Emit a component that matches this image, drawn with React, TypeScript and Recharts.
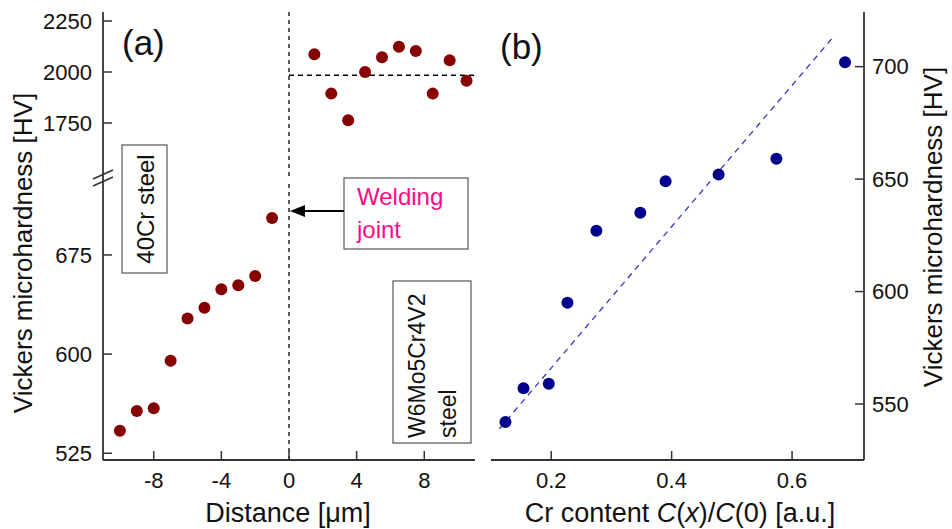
import React from "react";
import {
  ScatterChart,
  Scatter,
  XAxis,
  YAxis,
  ReferenceLine,
} from "recharts";

// panel (a): hardness across the weld
const distanceSteel = [-10, -9, -8, -7, -6, -5, -4, -3, -2, -1];
const hardnessSteel = [542, 557, 559, 595, 627, 635, 649, 652, 659, 703];
const distanceTool = [1.5, 2.5, 3.5, 4.5, 5.5, 6.5, 7.5, 8.5, 9.5, 10.5];
const hardnessTool = [2087, 1894, 1763, 2000, 2072, 2124, 2103, 1894, 2057, 1957];
const toolMean = 1984;

// panel (b): hardness vs Cr content
const crContent = [0.124, 0.154, 0.196, 0.227, 0.275, 0.348, 0.39, 0.478, 0.574, 0.688];
const crHardness = [542, 557, 559, 595, 627, 635, 649, 652, 659, 702];
const fitX = [0.114, 0.671];
const fitY = [539, 714];

const distanceTicks = [-8, -4, 0, 4, 8];
const upperTicks = [1750, 2000, 2250];
const lowerTicks = [525, 600, 675];
const crTicks = [0.2, 0.4, 0.6];
const crHardTicks = [550, 600, 650, 700];

const W = 952;
const H = 529;
const FONT = "'Liberation Sans', Arial, sans-serif";
const AXIS = "#333";
const TEXT = "#111";

const steelData = distanceSteel.map((x, i) => ({ x, y: hardnessSteel[i] }));
const toolData = distanceTool.map((x, i) => ({ x, y: hardnessTool[i] }));
const crData = crContent.map((x, i) => ({ x, y: crHardness[i] }));

const tickStyle = { fill: TEXT, fontSize: 22, fontFamily: FONT };
const axisLine = { stroke: AXIS, strokeWidth: 1.8 };
const tickLine = { stroke: AXIS, strokeWidth: 1.5 };

const abs: React.CSSProperties = { position: "absolute", left: 0, top: 0 };

const dot = (color: string) => (props: any) =>
  <circle cx={props.cx} cy={props.cy} r={6} fill={color} />;

export default function App() {
  return (
    <div
      style={{
        position: "absolute",
        left: 0,
        top: 0,
        width: W,
        height: H,
        background: "#fff",
        fontFamily: FONT,
      }}
    >
      {/* (a) upper part, above the break */}
      <ScatterChart
        width={W}
        height={H}
        style={abs}
        margin={{ top: 12, left: 0, right: 477, bottom: 349 }}
      >
        <XAxis
          type="number"
          dataKey="x"
          orientation="top"
          domain={[-11, 11]}
          allowDataOverflow
          height={0}
          tick={false}
          tickLine={false}
          axisLine={axisLine}
        />
        <YAxis
          type="number"
          dataKey="y"
          domain={[1470.6, 2294.1]}
          allowDataOverflow
          ticks={upperTicks}
          width={103}
          tick={tickStyle}
          tickSize={-9}
          tickMargin={20}
          tickLine={tickLine}
          axisLine={axisLine}
        />
        <YAxis
          yAxisId="border"
          orientation="right"
          type="number"
          domain={[0, 1]}
          width={0}
          tick={false}
          tickLine={false}
          axisLine={axisLine}
        />
        <ReferenceLine x={0} stroke="#000" strokeWidth={1.3} strokeDasharray="4 4" />
        <ReferenceLine
          segment={[
            { x: 0, y: toolMean },
            { x: 11, y: toolMean },
          ]}
          stroke="#000"
          strokeWidth={1.3}
          strokeDasharray="5 4"
        />
        <Scatter data={toolData} shape={dot("#860000")} isAnimationActive={false} />
      </ScatterChart>

      {/* (a) lower part, below the break */}
      <ScatterChart
        width={W}
        height={H}
        style={abs}
        margin={{ top: 180, left: 0, right: 477, bottom: 0 }}
      >
        <XAxis
          type="number"
          dataKey="x"
          domain={[-11, 11]}
          allowDataOverflow
          ticks={distanceTicks}
          height={69}
          tick={tickStyle}
          tickSize={-9}
          tickMargin={21}
          tickLine={tickLine}
          axisLine={axisLine}
        />
        <YAxis
          type="number"
          dataKey="y"
          domain={[519.9, 731.7]}
          allowDataOverflow
          ticks={lowerTicks}
          width={103}
          tick={tickStyle}
          tickSize={-9}
          tickMargin={20}
          tickLine={tickLine}
          axisLine={axisLine}
        />
        <YAxis
          yAxisId="border"
          orientation="right"
          type="number"
          domain={[0, 1]}
          width={0}
          tick={false}
          tickLine={false}
          axisLine={axisLine}
        />
        <ReferenceLine x={0} stroke="#000" strokeWidth={1.3} strokeDasharray="4 4" />
        <Scatter data={steelData} shape={dot("#860000")} isAnimationActive={false} />
      </ScatterChart>

      {/* (b) */}
      <ScatterChart
        width={W}
        height={H}
        style={abs}
        margin={{ top: 12, left: 491, right: 0, bottom: 0 }}
      >
        <XAxis
          type="number"
          dataKey="x"
          domain={[0.1, 0.7195]}
          allowDataOverflow
          ticks={crTicks}
          tickFormatter={(v: number) => v.toFixed(1)}
          height={69}
          tick={tickStyle}
          tickSize={-9}
          tickMargin={21}
          tickLine={tickLine}
          axisLine={axisLine}
        />
        <XAxis
          xAxisId="border"
          orientation="top"
          type="number"
          domain={[0, 1]}
          height={0}
          tick={false}
          tickLine={false}
          axisLine={axisLine}
        />
        <YAxis
          type="number"
          dataKey="y"
          orientation="right"
          domain={[525.1, 724.3]}
          allowDataOverflow
          ticks={crHardTicks}
          width={88}
          tick={{ ...tickStyle, textAnchor: "start" }}
          tickSize={-9}
          tickMargin={17}
          tickLine={tickLine}
          axisLine={axisLine}
        />
        <YAxis
          yAxisId="border"
          type="number"
          domain={[0, 1]}
          width={0}
          tick={false}
          tickLine={false}
          axisLine={axisLine}
        />
        <ReferenceLine
          segment={[
            { x: fitX[0], y: fitY[0] },
            { x: fitX[1], y: fitY[1] },
          ]}
          stroke="#3535c8"
          strokeWidth={1.3}
          strokeDasharray="6 5"
        />
        <Scatter data={crData} shape={dot("#00008a")} isAnimationActive={false} />
      </ScatterChart>

      {/* titles, notes and the axis break */}
      <svg width={W} height={H} style={{ ...abs, pointerEvents: "none" }}>
        <g fill={TEXT} fontFamily={FONT}>
          <text x={122} y={55} fontSize={35}>(a)</text>
          <text x={500} y={59} fontSize={35}>(b)</text>

          <text
            x={23}
            y={253}
            fontSize={26}
            textAnchor="middle"
            dominantBaseline="central"
            transform="rotate(-90 23 253)"
          >
            Vickers microhardness [HV]
          </text>
          <text
            x={933}
            y={227}
            fontSize={26}
            textAnchor="middle"
            dominantBaseline="central"
            transform="rotate(-90 933 227)"
          >
            Vickers microhardness [HV]
          </text>

          <text x={288} y={522} fontSize={27} textAnchor="middle">
            Distance [μm]
          </text>
          <text x={680} y={522} fontSize={27} textAnchor="middle">
            Cr content <tspan fontStyle="italic">C</tspan>(
            <tspan fontStyle="italic">x</tspan>)/
            <tspan fontStyle="italic">C</tspan>(0) [a.u.]
          </text>
        </g>

        {/* break marks on the left axis */}
        <g stroke={AXIS} strokeWidth={1.5}>
          <line x1={93} y1={179} x2={113} y2={170} />
          <line x1={93} y1={186} x2={113} y2={177} />
        </g>

        {/* 40Cr steel */}
        <rect x={122} y={145} width={45} height={128} fill="#fff" stroke="#555" strokeWidth={1.2} />
        <text
          x={145}
          y={209}
          fontSize={24}
          fontFamily={FONT}
          fill={TEXT}
          textAnchor="middle"
          dominantBaseline="central"
          transform="rotate(-90 145 209)"
        >
          40Cr steel
        </text>

        {/* welding joint */}
        <rect x={344} y={178} width={124} height={71} fill="#fff" stroke="#555" strokeWidth={1.2} />
        <g fill="#ff0a85" fontFamily={FONT} fontSize={24}>
          <text x={357} y={205}>Welding</text>
          <text x={357} y={238}>joint</text>
        </g>
        <line x1={344} y1={211} x2={302} y2={211} stroke="#000" strokeWidth={2} />
        <polygon points="290,211 305,205 305,217" fill="#000" />

        {/* W6Mo5Cr4V2 steel */}
        <rect x={393} y={281} width={78} height={162} fill="#fff" stroke="#555" strokeWidth={1.2} />
        <g fill={TEXT} fontFamily={FONT} fontSize={23} dominantBaseline="central">
          <text x={417} y={438} transform="rotate(-90 417 438)">
            W6Mo5Cr4V2
          </text>
          <text x={448} y={438} transform="rotate(-90 448 438)">
            steel
          </text>
        </g>
      </svg>
    </div>
  );
}
